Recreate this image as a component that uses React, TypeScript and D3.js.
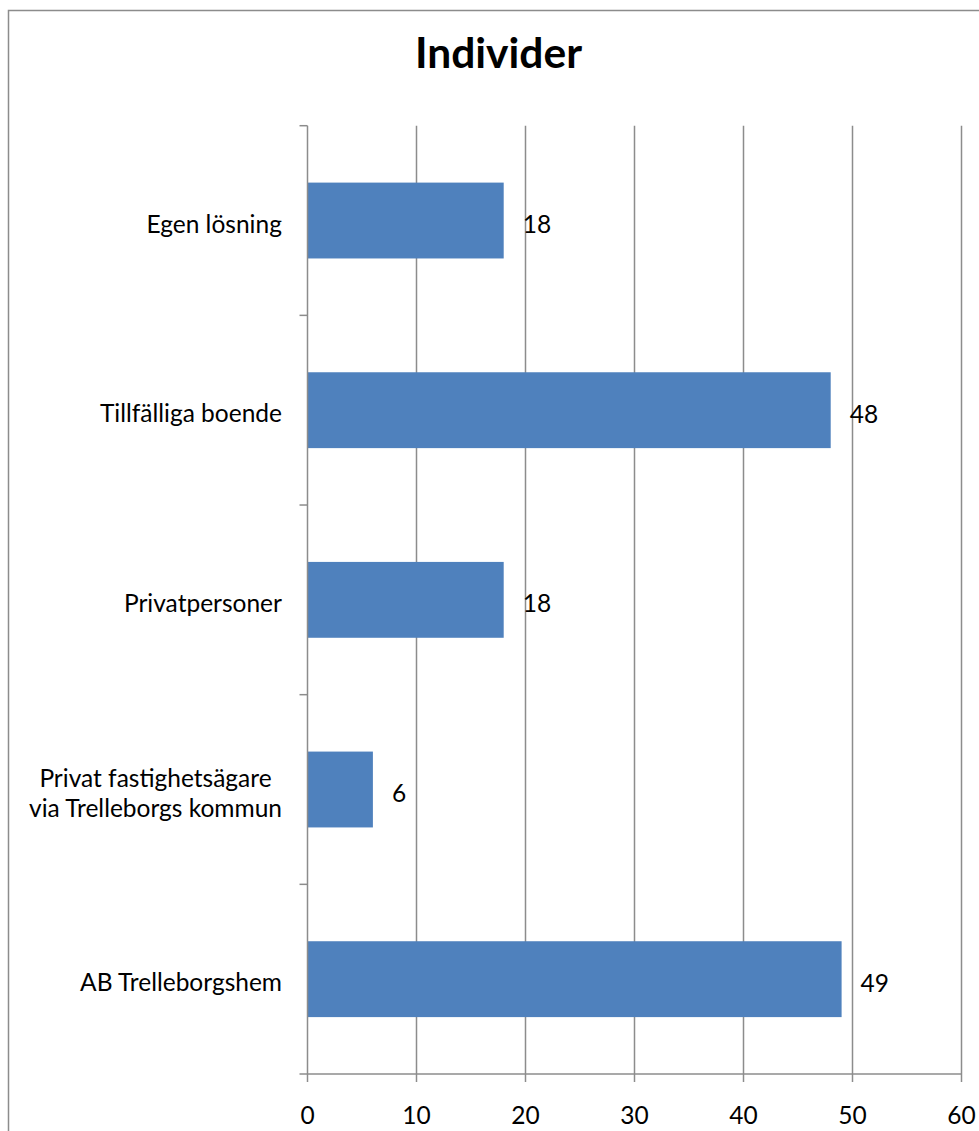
import { useEffect, useRef } from "react";
import * as d3 from "d3";

// categories drawn top to bottom
const categories = [
  "Egen lösning",
  "Tillfälliga boende",
  "Privatpersoner",
  "Privat fastighetsägare\nvia Trelleborgs kommun",
  "AB Trelleborgshem",
];
const values = [18, 48, 18, 6, 49];
const xTicks = [0, 10, 20, 30, 40, 50, 60];
const title = "Individer";

const W = 979;
const H = 1131;
const FONT = "Lato, 'Open Sans', sans-serif";
const FS = 24.5;

export default function App() {
  const ref = useRef<SVGSVGElement>(null);

  useEffect(() => {
    const svg = d3.select(ref.current);
    svg.selectAll("*").remove();

    const plot = { left: 307.5, right: 961.5, top: 125.7, bottom: 1074 };

    // chart frame (cropped on right and bottom like the original)
    svg
      .append("rect")
      .attr("x", 8.5)
      .attr("y", 10.5)
      .attr("width", 1100)
      .attr("height", 1300)
      .attr("fill", "#fff")
      .attr("stroke", "#8c8c8c")
      .attr("stroke-width", 1.5);

    const x = d3.scaleLinear().domain([0, 60]).range([plot.left, plot.right]);
    const y = d3
      .scaleBand<string>()
      .domain(categories)
      .range([plot.top, plot.bottom])
      .paddingInner(0.6)
      .paddingOuter(0.3);

    // vertical gridlines
    svg
      .append("g")
      .selectAll("line")
      .data(xTicks.slice(1))
      .join("line")
      .attr("x1", (d) => x(d))
      .attr("x2", (d) => x(d))
      .attr("y1", plot.top)
      .attr("y2", plot.bottom)
      .attr("stroke", "#8c8c8c")
      .attr("stroke-width", 1.5);

    // bars
    svg
      .append("g")
      .selectAll("rect")
      .data(values)
      .join("rect")
      .attr("x", x(0))
      .attr("y", (_, i) => y(categories[i])!)
      .attr("width", (d) => x(d) - x(0))
      .attr("height", y.bandwidth())
      .attr("fill", "#4f81bd");

    // category axis
    const bandStep = (plot.bottom - plot.top) / categories.length;
    const yAxis = svg.append("g");
    yAxis
      .append("line")
      .attr("x1", plot.left)
      .attr("x2", plot.left)
      .attr("y1", plot.top)
      .attr("y2", plot.bottom)
      .attr("stroke", "#8c8c8c")
      .attr("stroke-width", 1.5);
    yAxis
      .selectAll("line.tick")
      .data(d3.range(categories.length))
      .join("line")
      .attr("class", "tick")
      .attr("x1", plot.left - 8)
      .attr("x2", plot.left)
      .attr("y1", (i) => plot.top + i * bandStep)
      .attr("y2", (i) => plot.top + i * bandStep)
      .attr("stroke", "#8c8c8c")
      .attr("stroke-width", 1.5);

    const catLabels = yAxis
      .selectAll("text")
      .data(categories)
      .join("text")
      .attr("text-anchor", "middle")
      .attr("font-family", FONT)
      .attr("font-size", FS)
      .attr("fill", "#000")
      .attr("transform", (d) => `translate(0, ${y(d)! + y.bandwidth() / 2})`);
    catLabels.each(function (d) {
      const lines = d.split("\n");
      const t = d3.select(this);
      const lh = 30.6;
      lines.forEach((l, k) => {
        t.append("tspan")
          .attr("x", 0)
          .attr("dy", k === 0 ? (lines.length > 1 ? -3 : 12) : lh)
          .text(l);
      });
    });
    // right-align the block at the axis, lines centered to each other
    catLabels.each(function () {
      const bb = (this as SVGTextElement).getBBox();
      const node = d3.select(this);
      const tr = node.attr("transform");
      node.attr("transform", `${tr} translate(${282 - bb.width / 2},0)`);
    });

    // value axis
    const xAxis = svg.append("g");
    xAxis
      .append("line")
      .attr("x1", plot.left - 8)
      .attr("x2", plot.right)
      .attr("y1", plot.bottom)
      .attr("y2", plot.bottom)
      .attr("stroke", "#8c8c8c")
      .attr("stroke-width", 1.5);
    xAxis
      .selectAll("line.tick")
      .data(xTicks)
      .join("line")
      .attr("class", "tick")
      .attr("x1", (d) => x(d))
      .attr("x2", (d) => x(d))
      .attr("y1", plot.bottom)
      .attr("y2", plot.bottom + 8)
      .attr("stroke", "#8c8c8c")
      .attr("stroke-width", 1.5);
    xAxis
      .selectAll("text")
      .data(xTicks)
      .join("text")
      .attr("x", (d) => x(d))
      .attr("y", 1124)
      .attr("text-anchor", "middle")
      .attr("font-family", FONT)
      .attr("font-size", FS)
      .text((d) => d);

    // value labels
    svg
      .append("g")
      .selectAll("text")
      .data(values)
      .join("text")
      .attr("x", (d) => x(d) + 19)
      .attr("y", (_, i) => y(categories[i])! + y.bandwidth() / 2 + 12.5)
      .attr("font-family", FONT)
      .attr("font-size", FS)
      .text((d) => d);

    // title
    svg
      .append("text")
      .attr("x", 498.5)
      .attr("y", 68.3)
      .attr("text-anchor", "middle")
      .attr("font-family", FONT)
      .attr("font-weight", "bold")
      .attr("font-size", 42.5)
      .text(title);
  }, []);

  return (
    <svg
      ref={ref}
      width={W}
      height={H}
      style={{ position: "absolute", left: 0, top: 0, background: "#fff" }}
    />
  );
}
